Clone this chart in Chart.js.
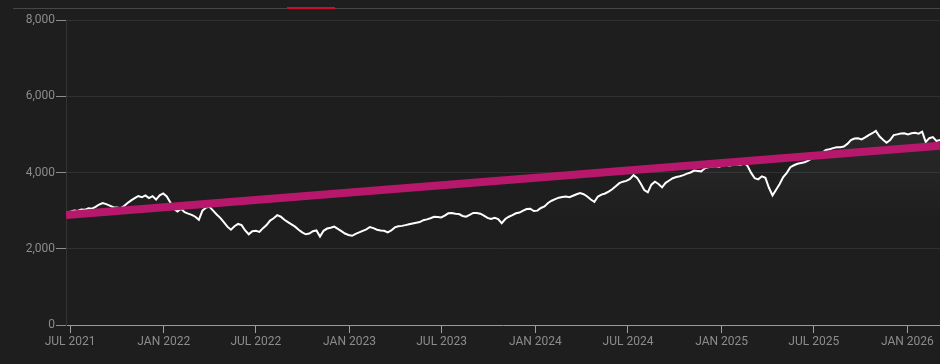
<!DOCTYPE html>
<html>
<head>
<meta charset="utf-8">
<script src="https://cdn.jsdelivr.net/npm/chart.js@4.4.1/dist/chart.umd.min.js"></script>
<style>
  html, body { margin: 0; padding: 0; background: #1e1e1e; }
  #wrap { position: relative; width: 940px; height: 364px; }
  #topRule { position: absolute; left: 13px; right: 0; top: 8px; height: 1px; background: #474747; }
  #topMark { position: absolute; left: 287px; width: 48px; top: 7px; height: 2px; background: #c8102e; }
</style>
</head>
<body>
<div id="wrap">
  <canvas id="chart" width="940" height="364"></canvas>
  <div id="topRule"></div>
  <div id="topMark"></div>
</div>
<script>
// weekly closes, first week ending 2021-06-25
const firstWeek = '2021-06-25';
const weeklyValues = [
  2930, 2970, 3000, 2990, 3030, 3020, 3060, 3050, 3100, 3160,
  3200, 3170, 3130, 3090, 3080, 3060, 3120, 3200, 3270, 3330,
  3380, 3350, 3400, 3330, 3380, 3290, 3400, 3450, 3370, 3210,
  3050, 2980, 3050, 2960, 2920, 2890, 2840, 2760, 3000, 3080,
  3100, 3000, 2900, 2810, 2700, 2580, 2500, 2590, 2650, 2620,
  2480, 2380, 2460, 2470, 2440, 2540, 2620, 2740, 2800, 2880,
  2840, 2760, 2700, 2640, 2580, 2500, 2430, 2380, 2400, 2460,
  2480, 2320, 2470, 2530, 2550, 2580, 2520, 2460, 2400, 2360,
  2340, 2390, 2430, 2470, 2510, 2570, 2540, 2500, 2480, 2470,
  2430, 2480, 2560, 2590, 2600, 2620, 2640, 2660, 2680, 2700,
  2750, 2770, 2800, 2840, 2830, 2820, 2870, 2930, 2940, 2920,
  2910, 2860, 2840, 2890, 2940, 2940, 2920, 2870, 2810, 2780,
  2810, 2780, 2670, 2780, 2840, 2880, 2930, 2950, 3000, 3040,
  3050, 2990, 3000, 3070, 3110, 3200, 3260, 3300, 3340, 3360,
  3370, 3350, 3390, 3430, 3460, 3430, 3370, 3290, 3230, 3370,
  3420, 3450, 3500, 3560, 3640, 3720, 3760, 3780, 3830, 3930,
  3860, 3710, 3540, 3480, 3680, 3760, 3700, 3610, 3730, 3790,
  3850, 3880, 3900, 3930, 3970, 4000, 4050, 4040, 4030, 4110,
  4140, 4160, 4170, 4150, 4180, 4200, 4180, 4220, 4210, 4200,
  4260, 4170, 3990, 3850, 3820, 3900, 3860, 3600, 3400, 3550,
  3700, 3880, 3990, 4140, 4190, 4230, 4250, 4270, 4310, 4370,
  4400, 4460, 4520, 4590, 4610, 4640, 4660, 4660, 4680, 4750,
  4850, 4890, 4900, 4870, 4920, 4980, 5030, 5090, 4950, 4860,
  4780, 4850, 4980, 5000, 5020, 5030, 5000, 5030, 5040, 5020,
  5070, 4800, 4900, 4930, 4830, 4850
];

const trendDates = ['2021-06-23', '2026-03-06'];
const trendValues = [2885, 4700];

const tickDates = ['2021-07-01', '2022-01-01', '2022-07-01', '2023-01-01', '2023-07-01',
  '2024-01-01', '2024-07-01', '2025-01-01', '2025-07-01', '2026-01-01'];
const tickLabels = ['JUL 2021', 'JAN 2022', 'JUL 2022', 'JAN 2023', 'JUL 2023',
  'JAN 2024', 'JUL 2024', 'JAN 2025', 'JUL 2025', 'JAN 2026'];

const yTicks = [0, 2000, 4000, 6000, 8000];

const DAY = 86400000;
const start = Date.parse(firstWeek);
const pricePoints = weeklyValues.map((v, i) => ({ x: start + i * 7 * DAY, y: v }));
const trendPoints = trendDates.map((d, i) => ({ x: Date.parse(d), y: trendValues[i] }));

const labelFont = { family: 'Roboto', size: 12 };

new Chart(document.getElementById('chart'), {
  type: 'line',
  data: {
    datasets: [
      {
        data: trendPoints,
        borderColor: '#b8186c',
        borderWidth: 8,
        pointRadius: 0,
        borderCapStyle: 'butt',
        order: 0,
      },
      {
        data: pricePoints,
        borderColor: '#ffffff',
        borderWidth: 2,
        pointRadius: 0,
        tension: 0,
        fill: 'origin',
        backgroundColor: (ctx) => {
          const chart = ctx.chart;
          if (!chart.chartArea) return 'rgba(0,0,0,0)';
          const y = chart.scales.y;
          const g = chart.ctx.createLinearGradient(0, y.getPixelForValue(5000), 0, y.getPixelForValue(2600));
          g.addColorStop(0, 'rgba(255,255,255,0.05)');
          g.addColorStop(1, 'rgba(255,255,255,0)');
          return g;
        },
        order: 1,
      },
    ],
  },
  options: {
    responsive: false,
    animation: false,
    events: [],
    layout: { padding: { top: 20, right: 0, left: 0, bottom: 0 } },
    plugins: { legend: { display: false }, tooltip: { enabled: false } },
    scales: {
      x: {
        type: 'linear',
        min: Date.parse(trendDates[0]),
        max: Date.parse(trendDates[1]),
        afterBuildTicks: (scale) => {
          scale.ticks = tickDates.map((d) => ({ value: Date.parse(d) }));
        },
        afterFit: (scale) => { scale.height = 39; },
        ticks: {
          autoSkip: false,
          maxRotation: 0,
          color: '#8c8c8c',
          font: labelFont,
          padding: 2,
          callback: (v, i) => tickLabels[i],
        },
        grid: { drawOnChartArea: false, tickLength: 8, tickColor: '#a0a0a0' },
        border: { color: '#9a9a9a', width: 1 },
      },
      y: {
        min: 0,
        max: 8000,
        afterBuildTicks: (scale) => {
          scale.ticks = yTicks.map((v) => ({ value: v }));
        },
        afterFit: (scale) => { scale.width = 66; },
        ticks: {
          color: '#8c8c8c',
          font: labelFont,
          padding: 1,
          callback: (v) => v.toLocaleString('en-US'),
        },
        grid: { color: '#313131', tickColor: '#8c8c8c', tickLength: 10 },
        border: { color: '#333333', width: 1 },
      },
    },
  },
});
</script>
</body>
</html>
